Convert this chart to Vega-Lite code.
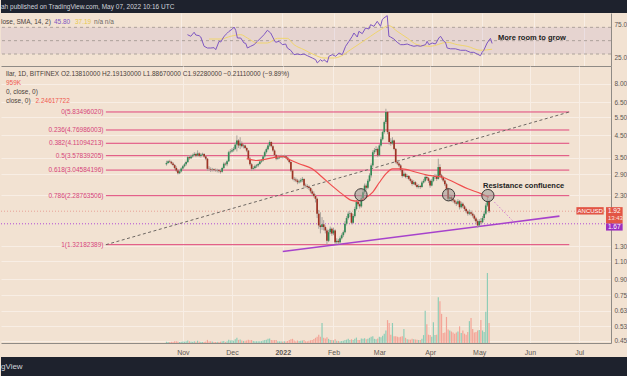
{
"$schema":"https://vega.github.io/schema/vega-lite/v6.json",
"background":"#f2e2d2",
"padding":0,
"spacing":0,
"config":{"view":{"stroke":null},"font":"Liberation Sans","axis":{"title":null}},
"datasets":{
"candles":[
{"date":"2021-10-22","o":3.25,"h":3.38,"l":3.2,"c":3.3,"v":60},
{"date":"2021-10-23","o":3.3,"h":3.4,"l":3.27,"c":3.36,"v":50},
{"date":"2021-10-24","o":3.36,"h":3.42,"l":3.3,"c":3.34,"v":45},
{"date":"2021-10-25","o":3.34,"h":3.38,"l":3.24,"c":3.28,"v":55},
{"date":"2021-10-26","o":3.28,"h":3.33,"l":3.18,"c":3.22,"v":60},
{"date":"2021-10-27","o":3.22,"h":3.26,"l":3.06,"c":3.12,"v":80},
{"date":"2021-10-28","o":3.12,"h":3.18,"l":2.98,"c":3.03,"v":90},
{"date":"2021-10-29","o":3.03,"h":3.08,"l":2.9,"c":2.94,"v":70},
{"date":"2021-10-30","o":2.94,"h":3.05,"l":2.91,"c":3.0,"v":50},
{"date":"2021-10-31","o":3.0,"h":3.14,"l":2.97,"c":3.1,"v":60},
{"date":"2021-11-01","o":3.1,"h":3.22,"l":3.06,"c":3.18,"v":70},
{"date":"2021-11-02","o":3.18,"h":3.3,"l":3.14,"c":3.25,"v":65},
{"date":"2021-11-03","o":3.25,"h":3.38,"l":3.2,"c":3.33,"v":80},
{"date":"2021-11-04","o":3.33,"h":3.58,"l":3.3,"c":3.52,"v":120},
{"date":"2021-11-05","o":3.52,"h":3.6,"l":3.42,"c":3.48,"v":80},
{"date":"2021-11-06","o":3.48,"h":3.62,"l":3.45,"c":3.55,"v":70},
{"date":"2021-11-07","o":3.55,"h":3.66,"l":3.5,"c":3.6,"v":65},
{"date":"2021-11-08","o":3.6,"h":3.72,"l":3.56,"c":3.65,"v":90},
{"date":"2021-11-09","o":3.65,"h":3.7,"l":3.52,"c":3.58,"v":75},
{"date":"2021-11-10","o":3.58,"h":3.8,"l":3.55,"c":3.67,"v":110},
{"date":"2021-11-11","o":3.67,"h":3.72,"l":3.52,"c":3.57,"v":70},
{"date":"2021-11-12","o":3.57,"h":3.68,"l":3.5,"c":3.62,"v":60},
{"date":"2021-11-13","o":3.62,"h":3.7,"l":3.57,"c":3.65,"v":55},
{"date":"2021-11-14","o":3.65,"h":3.68,"l":3.5,"c":3.55,"v":60},
{"date":"2021-11-15","o":3.55,"h":3.6,"l":3.4,"c":3.46,"v":70},
{"date":"2021-11-16","o":3.46,"h":3.48,"l":3.02,"c":3.09,"v":150},
{"date":"2021-11-17","o":3.09,"h":3.18,"l":3.02,"c":3.08,"v":90},
{"date":"2021-11-18","o":3.08,"h":3.14,"l":2.98,"c":3.06,"v":80},
{"date":"2021-11-19","o":3.06,"h":3.12,"l":3.0,"c":3.07,"v":70},
{"date":"2021-11-20","o":3.07,"h":3.1,"l":3.0,"c":3.05,"v":60},
{"date":"2021-11-21","o":3.05,"h":3.1,"l":2.99,"c":3.04,"v":55},
{"date":"2021-11-22","o":3.04,"h":3.09,"l":2.97,"c":3.05,"v":60},
{"date":"2021-11-23","o":3.05,"h":3.08,"l":2.96,"c":3.02,"v":65},
{"date":"2021-11-24","o":3.02,"h":3.06,"l":2.93,"c":2.99,"v":70},
{"date":"2021-11-25","o":2.99,"h":3.16,"l":2.96,"c":3.12,"v":80},
{"date":"2021-11-26","o":3.12,"h":3.32,"l":3.08,"c":3.27,"v":100},
{"date":"2021-11-27","o":3.27,"h":3.32,"l":3.2,"c":3.25,"v":60},
{"date":"2021-11-28","o":3.25,"h":3.4,"l":3.18,"c":3.36,"v":80},
{"date":"2021-11-29","o":3.36,"h":3.78,"l":3.33,"c":3.72,"v":160},
{"date":"2021-11-30","o":3.72,"h":3.85,"l":3.66,"c":3.75,"v":120},
{"date":"2021-12-01","o":3.75,"h":3.9,"l":3.7,"c":3.8,"v":130},
{"date":"2021-12-02","o":3.8,"h":3.95,"l":3.74,"c":3.86,"v":110},
{"date":"2021-12-03","o":3.86,"h":4.15,"l":3.82,"c":4.05,"v":180},
{"date":"2021-12-04","o":4.05,"h":4.49,"l":3.75,"c":4.24,"v":250},
{"date":"2021-12-05","o":4.24,"h":4.3,"l":3.9,"c":4.01,"v":150},
{"date":"2021-12-06","o":4.01,"h":4.4,"l":3.85,"c":4.1,"v":170},
{"date":"2021-12-07","o":4.1,"h":4.2,"l":3.92,"c":3.98,"v":120},
{"date":"2021-12-08","o":3.98,"h":4.08,"l":3.88,"c":4.01,"v":100},
{"date":"2021-12-09","o":4.01,"h":4.05,"l":3.85,"c":3.9,"v":110},
{"date":"2021-12-10","o":3.9,"h":3.95,"l":3.72,"c":3.79,"v":120},
{"date":"2021-12-11","o":3.79,"h":3.82,"l":3.4,"c":3.46,"v":160},
{"date":"2021-12-12","o":3.46,"h":3.52,"l":3.2,"c":3.25,"v":130},
{"date":"2021-12-13","o":3.25,"h":3.3,"l":3.02,"c":3.09,"v":150},
{"date":"2021-12-14","o":3.09,"h":3.18,"l":3.04,"c":3.12,"v":100},
{"date":"2021-12-15","o":3.12,"h":3.24,"l":3.06,"c":3.18,"v":90},
{"date":"2021-12-16","o":3.18,"h":3.26,"l":3.12,"c":3.21,"v":80},
{"date":"2021-12-17","o":3.21,"h":3.3,"l":3.15,"c":3.26,"v":85},
{"date":"2021-12-18","o":3.26,"h":3.4,"l":3.22,"c":3.35,"v":90},
{"date":"2021-12-19","o":3.35,"h":3.45,"l":3.3,"c":3.39,"v":90},
{"date":"2021-12-20","o":3.39,"h":3.6,"l":3.35,"c":3.55,"v":120},
{"date":"2021-12-21","o":3.55,"h":3.78,"l":3.5,"c":3.72,"v":150},
{"date":"2021-12-22","o":3.72,"h":3.92,"l":3.66,"c":3.85,"v":160},
{"date":"2021-12-23","o":3.85,"h":4.08,"l":3.8,"c":4.01,"v":200},
{"date":"2021-12-24","o":4.01,"h":4.25,"l":3.95,"c":4.17,"v":220},
{"date":"2021-12-25","o":4.17,"h":4.2,"l":3.92,"c":3.98,"v":140},
{"date":"2021-12-26","o":3.98,"h":4.02,"l":3.74,"c":3.79,"v":130},
{"date":"2021-12-27","o":3.79,"h":3.84,"l":3.55,"c":3.6,"v":140},
{"date":"2021-12-28","o":3.6,"h":3.64,"l":3.4,"c":3.46,"v":150},
{"date":"2021-12-29","o":3.46,"h":3.56,"l":3.42,"c":3.5,"v":90},
{"date":"2021-12-30","o":3.5,"h":3.58,"l":3.45,"c":3.52,"v":80},
{"date":"2021-12-31","o":3.52,"h":3.62,"l":3.48,"c":3.55,"v":85},
{"date":"2022-01-01","o":3.55,"h":3.6,"l":3.47,"c":3.52,"v":70},
{"date":"2022-01-02","o":3.52,"h":3.62,"l":3.49,"c":3.56,"v":80},
{"date":"2022-01-03","o":3.56,"h":3.6,"l":3.45,"c":3.5,"v":90},
{"date":"2022-01-04","o":3.5,"h":3.54,"l":3.38,"c":3.42,"v":100},
{"date":"2022-01-05","o":3.42,"h":3.46,"l":3.28,"c":3.33,"v":140},
{"date":"2022-01-06","o":3.33,"h":3.36,"l":2.98,"c":3.03,"v":180},
{"date":"2022-01-07","o":3.03,"h":3.07,"l":2.72,"c":2.76,"v":200},
{"date":"2022-01-08","o":2.76,"h":2.82,"l":2.68,"c":2.74,"v":120},
{"date":"2022-01-09","o":2.74,"h":2.8,"l":2.66,"c":2.71,"v":90},
{"date":"2022-01-10","o":2.71,"h":2.76,"l":2.6,"c":2.66,"v":120},
{"date":"2022-01-11","o":2.66,"h":2.74,"l":2.62,"c":2.68,"v":100},
{"date":"2022-01-12","o":2.68,"h":2.78,"l":2.64,"c":2.72,"v":110},
{"date":"2022-01-13","o":2.72,"h":2.82,"l":2.66,"c":2.76,"v":120},
{"date":"2022-01-14","o":2.76,"h":2.78,"l":2.52,"c":2.56,"v":150},
{"date":"2022-01-15","o":2.56,"h":2.62,"l":2.5,"c":2.55,"v":90},
{"date":"2022-01-16","o":2.55,"h":2.6,"l":2.47,"c":2.52,"v":90},
{"date":"2022-01-17","o":2.52,"h":2.56,"l":2.44,"c":2.49,"v":110},
{"date":"2022-01-18","o":2.49,"h":2.52,"l":2.35,"c":2.4,"v":130},
{"date":"2022-01-19","o":2.4,"h":2.45,"l":2.3,"c":2.34,"v":140},
{"date":"2022-01-20","o":2.34,"h":2.4,"l":2.24,"c":2.28,"v":190},
{"date":"2022-01-21","o":2.28,"h":2.32,"l":2.12,"c":2.21,"v":250},
{"date":"2022-01-22","o":2.21,"h":2.24,"l":1.78,"c":1.87,"v":300},
{"date":"2022-01-23","o":1.87,"h":1.95,"l":1.58,"c":1.64,"v":400},
{"date":"2022-01-24","o":1.64,"h":1.9,"l":1.5,"c":1.61,"v":300},
{"date":"2022-01-25","o":1.61,"h":1.8,"l":1.56,"c":1.66,"v":960},
{"date":"2022-01-26","o":1.66,"h":1.74,"l":1.55,"c":1.61,"v":250},
{"date":"2022-01-27","o":1.61,"h":1.64,"l":1.5,"c":1.55,"v":220},
{"date":"2022-01-28","o":1.55,"h":1.58,"l":1.32,"c":1.38,"v":280},
{"date":"2022-01-29","o":1.38,"h":1.56,"l":1.36,"c":1.52,"v":200},
{"date":"2022-01-30","o":1.52,"h":1.62,"l":1.49,"c":1.58,"v":150},
{"date":"2022-01-31","o":1.58,"h":1.6,"l":1.46,"c":1.5,"v":140},
{"date":"2022-02-01","o":1.5,"h":1.6,"l":1.47,"c":1.55,"v":130},
{"date":"2022-02-02","o":1.55,"h":1.57,"l":1.33,"c":1.36,"v":180},
{"date":"2022-02-03","o":1.36,"h":1.42,"l":1.33,"c":1.38,"v":110},
{"date":"2022-02-04","o":1.38,"h":1.41,"l":1.33,"c":1.36,"v":100},
{"date":"2022-02-05","o":1.36,"h":1.45,"l":1.34,"c":1.42,"v":90},
{"date":"2022-02-06","o":1.42,"h":1.5,"l":1.4,"c":1.47,"v":100},
{"date":"2022-02-07","o":1.47,"h":1.55,"l":1.44,"c":1.52,"v":110},
{"date":"2022-02-08","o":1.52,"h":1.72,"l":1.5,"c":1.67,"v":150},
{"date":"2022-02-09","o":1.67,"h":1.82,"l":1.64,"c":1.78,"v":160},
{"date":"2022-02-10","o":1.78,"h":1.92,"l":1.75,"c":1.87,"v":200},
{"date":"2022-02-11","o":1.87,"h":1.93,"l":1.8,"c":1.88,"v":150},
{"date":"2022-02-12","o":1.88,"h":1.9,"l":1.66,"c":1.69,"v":180},
{"date":"2022-02-13","o":1.69,"h":1.86,"l":1.67,"c":1.82,"v":140},
{"date":"2022-02-14","o":1.82,"h":2.02,"l":1.79,"c":1.97,"v":200},
{"date":"2022-02-15","o":1.97,"h":2.18,"l":1.94,"c":2.13,"v":260},
{"date":"2022-02-16","o":2.13,"h":2.17,"l":2.03,"c":2.08,"v":150},
{"date":"2022-02-17","o":2.08,"h":2.12,"l":1.98,"c":2.03,"v":140},
{"date":"2022-02-18","o":2.03,"h":2.28,"l":2.0,"c":2.22,"v":220},
{"date":"2022-02-19","o":2.22,"h":2.44,"l":2.18,"c":2.38,"v":200},
{"date":"2022-02-20","o":2.38,"h":2.62,"l":2.34,"c":2.56,"v":230},
{"date":"2022-02-21","o":2.56,"h":2.62,"l":2.42,"c":2.5,"v":180},
{"date":"2022-02-22","o":2.5,"h":2.76,"l":2.46,"c":2.7,"v":200},
{"date":"2022-02-23","o":2.7,"h":2.94,"l":2.66,"c":2.87,"v":250},
{"date":"2022-02-24","o":2.87,"h":3.28,"l":2.8,"c":3.21,"v":300},
{"date":"2022-02-25","o":3.21,"h":3.8,"l":3.15,"c":3.72,"v":330},
{"date":"2022-02-26","o":3.72,"h":3.9,"l":3.64,"c":3.8,"v":200},
{"date":"2022-02-27","o":3.8,"h":3.98,"l":3.72,"c":3.86,"v":180},
{"date":"2022-02-28","o":3.86,"h":3.92,"l":3.52,"c":3.59,"v":220},
{"date":"2022-03-01","o":3.59,"h":4.08,"l":3.55,"c":4.01,"v":300},
{"date":"2022-03-02","o":4.01,"h":4.4,"l":3.96,"c":4.3,"v":280},
{"date":"2022-03-03","o":4.3,"h":4.75,"l":4.24,"c":4.66,"v":350},
{"date":"2022-03-04","o":4.66,"h":5.3,"l":4.58,"c":5.21,"v":450},
{"date":"2022-03-05","o":5.21,"h":6.05,"l":5.1,"c":5.83,"v":600},
{"date":"2022-03-06","o":5.83,"h":5.9,"l":4.55,"c":4.66,"v":1100},
{"date":"2022-03-07","o":4.66,"h":4.75,"l":4.05,"c":4.17,"v":960},
{"date":"2022-03-08","o":4.17,"h":4.35,"l":4.0,"c":4.1,"v":400},
{"date":"2022-03-09","o":4.1,"h":4.4,"l":4.05,"c":4.24,"v":960},
{"date":"2022-03-10","o":4.24,"h":4.28,"l":3.8,"c":3.86,"v":330},
{"date":"2022-03-11","o":3.86,"h":3.9,"l":3.28,"c":3.33,"v":330},
{"date":"2022-03-12","o":3.33,"h":3.4,"l":3.22,"c":3.28,"v":300},
{"date":"2022-03-13","o":3.28,"h":3.34,"l":3.15,"c":3.21,"v":280},
{"date":"2022-03-14","o":3.21,"h":3.26,"l":3.0,"c":3.05,"v":300},
{"date":"2022-03-15","o":3.05,"h":3.1,"l":2.8,"c":2.85,"v":320},
{"date":"2022-03-16","o":2.85,"h":3.0,"l":2.82,"c":2.92,"v":670},
{"date":"2022-03-17","o":2.92,"h":2.96,"l":2.78,"c":2.82,"v":250},
{"date":"2022-03-18","o":2.82,"h":2.9,"l":2.76,"c":2.85,"v":180},
{"date":"2022-03-19","o":2.85,"h":2.88,"l":2.72,"c":2.76,"v":170},
{"date":"2022-03-20","o":2.76,"h":2.8,"l":2.65,"c":2.7,"v":160},
{"date":"2022-03-21","o":2.7,"h":2.74,"l":2.56,"c":2.61,"v":200},
{"date":"2022-03-22","o":2.61,"h":2.72,"l":2.58,"c":2.66,"v":180},
{"date":"2022-03-23","o":2.66,"h":2.69,"l":2.54,"c":2.58,"v":170},
{"date":"2022-03-24","o":2.58,"h":2.62,"l":2.48,"c":2.52,"v":160},
{"date":"2022-03-25","o":2.52,"h":2.6,"l":2.48,"c":2.55,"v":150},
{"date":"2022-03-26","o":2.55,"h":2.58,"l":2.47,"c":2.52,"v":140},
{"date":"2022-03-27","o":2.52,"h":2.7,"l":2.5,"c":2.65,"v":200},
{"date":"2022-03-28","o":2.65,"h":2.76,"l":2.62,"c":2.7,"v":380},
{"date":"2022-03-29","o":2.7,"h":2.9,"l":2.66,"c":2.82,"v":1550},
{"date":"2022-03-30","o":2.82,"h":2.88,"l":2.72,"c":2.78,"v":900},
{"date":"2022-03-31","o":2.78,"h":2.82,"l":2.64,"c":2.7,"v":400},
{"date":"2022-04-01","o":2.7,"h":2.74,"l":2.5,"c":2.56,"v":380},
{"date":"2022-04-02","o":2.56,"h":2.76,"l":2.54,"c":2.7,"v":300},
{"date":"2022-04-03","o":2.7,"h":2.88,"l":2.66,"c":2.82,"v":1000},
{"date":"2022-04-04","o":2.82,"h":2.92,"l":2.76,"c":2.85,"v":380},
{"date":"2022-04-05","o":2.85,"h":2.9,"l":2.7,"c":2.76,"v":400},
{"date":"2022-04-06","o":2.76,"h":3.46,"l":2.74,"c":3.15,"v":2200},
{"date":"2022-04-07","o":3.15,"h":3.25,"l":2.82,"c":2.87,"v":2000},
{"date":"2022-04-08","o":2.87,"h":2.92,"l":2.74,"c":2.8,"v":1400},
{"date":"2022-04-09","o":2.8,"h":2.85,"l":2.66,"c":2.71,"v":480},
{"date":"2022-04-10","o":2.71,"h":2.75,"l":2.55,"c":2.6,"v":500},
{"date":"2022-04-11","o":2.6,"h":2.64,"l":2.42,"c":2.47,"v":1250},
{"date":"2022-04-12","o":2.47,"h":2.5,"l":2.15,"c":2.21,"v":650},
{"date":"2022-04-13","o":2.21,"h":2.32,"l":2.16,"c":2.25,"v":600},
{"date":"2022-04-14","o":2.25,"h":2.28,"l":2.14,"c":2.2,"v":550},
{"date":"2022-04-15","o":2.2,"h":2.24,"l":2.12,"c":2.17,"v":500},
{"date":"2022-04-16","o":2.17,"h":2.2,"l":2.08,"c":2.12,"v":450},
{"date":"2022-04-17","o":2.12,"h":2.16,"l":2.04,"c":2.09,"v":500},
{"date":"2022-04-18","o":2.09,"h":2.2,"l":2.06,"c":2.15,"v":550},
{"date":"2022-04-19","o":2.15,"h":2.18,"l":1.96,"c":2.01,"v":800},
{"date":"2022-04-20","o":2.01,"h":2.14,"l":1.98,"c":2.09,"v":480},
{"date":"2022-04-21","o":2.09,"h":2.12,"l":1.99,"c":2.03,"v":600},
{"date":"2022-04-22","o":2.03,"h":2.06,"l":1.93,"c":1.97,"v":450},
{"date":"2022-04-23","o":1.97,"h":2.0,"l":1.88,"c":1.92,"v":400},
{"date":"2022-04-24","o":1.92,"h":1.95,"l":1.83,"c":1.87,"v":530},
{"date":"2022-04-25","o":1.87,"h":1.96,"l":1.84,"c":1.9,"v":1050},
{"date":"2022-04-26","o":1.9,"h":1.94,"l":1.83,"c":1.87,"v":1200},
{"date":"2022-04-27","o":1.87,"h":1.9,"l":1.79,"c":1.83,"v":670},
{"date":"2022-04-28","o":1.83,"h":1.86,"l":1.73,"c":1.77,"v":500},
{"date":"2022-04-29","o":1.77,"h":1.8,"l":1.68,"c":1.72,"v":530},
{"date":"2022-04-30","o":1.72,"h":1.75,"l":1.6,"c":1.64,"v":600},
{"date":"2022-05-01","o":1.64,"h":1.76,"l":1.62,"c":1.72,"v":620},
{"date":"2022-05-02","o":1.72,"h":1.78,"l":1.66,"c":1.7,"v":1100},
{"date":"2022-05-03","o":1.7,"h":1.82,"l":1.68,"c":1.78,"v":600},
{"date":"2022-05-04","o":1.78,"h":1.92,"l":1.74,"c":1.87,"v":530},
{"date":"2022-05-05","o":1.87,"h":2.1,"l":1.84,"c":2.05,"v":1500},
{"date":"2022-05-06","o":2.05,"h":2.29,"l":2.02,"c":2.1381,"v":3360},
{"date":"2022-05-07","o":2.1381,"h":2.1913,"l":1.8867,"c":1.9228,"v":959}
],
"rsi":[
{"date":"2021-11-05","v":59},{"date":"2021-11-07","v":56.6},{"date":"2021-11-09","v":62.6},{"date":"2021-11-10","v":58.5},{"date":"2021-11-12","v":57.5},{"date":"2021-11-13","v":55.5},{"date":"2021-11-15","v":41.6},{"date":"2021-11-17","v":39},{"date":"2021-11-19","v":39},{"date":"2021-11-21","v":39.5},{"date":"2021-11-22","v":36.5},{"date":"2021-11-24","v":49},{"date":"2021-11-25","v":48},{"date":"2021-11-27","v":56.6},{"date":"2021-11-29","v":61.5},{"date":"2021-11-30","v":64},
{"date":"2021-12-02","v":67.5},{"date":"2021-12-03","v":70.5},{"date":"2021-12-04","v":65.5},{"date":"2021-12-05","v":54},{"date":"2021-12-07","v":54},{"date":"2021-12-09","v":46.5},{"date":"2021-12-10","v":46},{"date":"2021-12-11","v":39},{"date":"2021-12-13","v":41.6},{"date":"2021-12-15","v":44},{"date":"2021-12-17","v":49},{"date":"2021-12-19","v":54},{"date":"2021-12-21","v":59},{"date":"2021-12-23","v":65.6},{"date":"2021-12-25","v":61.5},{"date":"2021-12-27","v":51.5},{"date":"2021-12-28","v":47.6},{"date":"2021-12-30","v":49},
{"date":"2022-01-01","v":44},{"date":"2022-01-03","v":45},{"date":"2022-01-04","v":39},{"date":"2022-01-06","v":35.6},{"date":"2022-01-08","v":29},{"date":"2022-01-10","v":30},{"date":"2022-01-12","v":29},{"date":"2022-01-14","v":30},{"date":"2022-01-16","v":27.5},{"date":"2022-01-19","v":24},{"date":"2022-01-21","v":21.5},{"date":"2022-01-22","v":16.6},{"date":"2022-01-24","v":21.5},{"date":"2022-01-25","v":19},{"date":"2022-01-26","v":21.5},{"date":"2022-01-28","v":17.5},{"date":"2022-01-29","v":26.6},{"date":"2022-01-31","v":29},
{"date":"2022-02-02","v":26.6},{"date":"2022-02-04","v":31.5},{"date":"2022-02-06","v":29},{"date":"2022-02-08","v":41.6},{"date":"2022-02-10","v":49},{"date":"2022-02-12","v":56.6},{"date":"2022-02-13","v":61.5},{"date":"2022-02-15","v":55.5},{"date":"2022-02-16","v":64},{"date":"2022-02-18","v":60.5},{"date":"2022-02-20","v":69},{"date":"2022-02-22","v":67.5},{"date":"2022-02-23","v":74},{"date":"2022-02-25","v":71.5},{"date":"2022-02-27","v":79},
{"date":"2022-03-01","v":71.5},{"date":"2022-03-02","v":81.5},{"date":"2022-03-03","v":84},{"date":"2022-03-05","v":87.5},{"date":"2022-03-06","v":56.6},{"date":"2022-03-07","v":55.5},{"date":"2022-03-09","v":52.5},{"date":"2022-03-11","v":47.6},{"date":"2022-03-13","v":44},{"date":"2022-03-15","v":44},{"date":"2022-03-17","v":45},{"date":"2022-03-19","v":43},{"date":"2022-03-21","v":41.6},{"date":"2022-03-23","v":42.5},{"date":"2022-03-25","v":41.6},{"date":"2022-03-28","v":44},{"date":"2022-03-29","v":49},{"date":"2022-03-30","v":44},
{"date":"2022-04-01","v":46.5},{"date":"2022-04-03","v":45},{"date":"2022-04-05","v":54},{"date":"2022-04-06","v":56.6},{"date":"2022-04-08","v":49},{"date":"2022-04-09","v":47.6},{"date":"2022-04-10","v":39},{"date":"2022-04-12","v":37.8},{"date":"2022-04-15","v":37.8},{"date":"2022-04-18","v":35.6},{"date":"2022-04-21","v":35.6},{"date":"2022-04-24","v":32.5},{"date":"2022-04-26","v":32.5},{"date":"2022-04-28","v":30},{"date":"2022-04-30","v":27.5},
{"date":"2022-05-01","v":32.5},{"date":"2022-05-02","v":35.6},{"date":"2022-05-04","v":46.5},{"date":"2022-05-06","v":53.5},{"date":"2022-05-07","v":45.8}
],
"rsima":[
{"date":"2021-11-18","v":52.5},{"date":"2021-11-25","v":52.5},{"date":"2021-12-01","v":56.6},{"date":"2021-12-07","v":59},{"date":"2021-12-11","v":54},{"date":"2021-12-17","v":46.5},{"date":"2021-12-23","v":46.5},{"date":"2021-12-29","v":53.5},{"date":"2022-01-04","v":53.5},{"date":"2022-01-08","v":44},{"date":"2022-01-14","v":36.5},{"date":"2022-01-20","v":29},{"date":"2022-01-26","v":24},{"date":"2022-02-01","v":24},{"date":"2022-02-05","v":26.6},{"date":"2022-02-11","v":36.5},{"date":"2022-02-17","v":46.5},{"date":"2022-02-23","v":56.6},{"date":"2022-03-01","v":66.5},{"date":"2022-03-06","v":72.5},{"date":"2022-03-11","v":64},{"date":"2022-03-17","v":54},{"date":"2022-03-23","v":44},{"date":"2022-03-31","v":41.6},{"date":"2022-04-10","v":47.6},{"date":"2022-04-16","v":44},{"date":"2022-04-22","v":41.6},{"date":"2022-04-30","v":35.6},{"date":"2022-05-07","v":37.2}
],
"ma":[
{"date":"2021-12-10","v":3.46},{"date":"2021-12-16","v":3.39},{"date":"2021-12-24","v":3.47},{"date":"2021-12-28","v":3.52},{"date":"2022-01-01","v":3.55},{"date":"2022-01-04","v":3.46},{"date":"2022-01-11","v":3.27},{"date":"2022-01-19","v":3.09},{"date":"2022-01-25","v":2.82},{"date":"2022-01-31","v":2.56},{"date":"2022-02-06","v":2.34},{"date":"2022-02-12","v":2.17},{"date":"2022-02-16","v":2.15},{"date":"2022-02-20","v":2.22},{"date":"2022-02-25","v":2.38},{"date":"2022-03-01","v":2.65},{"date":"2022-03-05","v":2.92},{"date":"2022-03-09","v":3.09},{"date":"2022-03-15","v":3.09},{"date":"2022-03-23","v":2.98},{"date":"2022-03-31","v":2.87},{"date":"2022-04-08","v":2.82},{"date":"2022-04-16","v":2.65},{"date":"2022-04-24","v":2.47},{"date":"2022-05-02","v":2.34},{"date":"2022-05-07","v":2.246}
],
"fib":[
{"ratio":"0","price":5.8349602,"label":"0(5.83496020)"},
{"ratio":"0.236","price":4.76986003,"label":"0.236(4.76986003)"},
{"ratio":"0.382","price":4.11094213,"label":"0.382(4.11094213)"},
{"ratio":"0.5","price":3.57839205,"label":"0.5(3.57839205)"},
{"ratio":"0.618","price":3.04584196,"label":"0.618(3.04584196)"},
{"ratio":"0.786","price":2.28763506,"label":"0.786(2.28763506)"},
{"ratio":"1","price":1.32182389,"label":"1(1.32182389)"}
],
"circles":[
{"date":"2022-02-17T19:00:00Z","p":2.31},
{"date":"2022-04-12T07:00:00Z","p":2.31},
{"date":"2022-05-06T07:00:00Z","p":2.29}
]
},
"vconcat":[
{
"width":627,"height":13,
"view":{"fill":"#1e222d","stroke":null},
"data":{"values":[{"t":"ah published on TradingView.com, May 07, 2022 10:16 UTC"}]},
"mark":{"type":"text","align":"left","baseline":"middle","fontSize":6.5,"color":"#d1d4dc"},
"encoding":{
"x":{"datum":{"year":2021,"month":7,"date":16,"utc":true},"type":"temporal","scale":{"type":"utc","domain":[{"year":2021,"month":7,"date":16,"utc":true},{"year":2022,"month":7,"date":17,"hours":10,"utc":true}],"nice":false},"axis":null},
"text":{"field":"t"}
}
},
{
"width":610,"height":53,
"layer":[
{
"data":{"values":[{}]},
"mark":{"type":"rect","color":"#7e57c2","opacity":0.1},
"encoding":{
"x":{"datum":{"year":2021,"month":7,"date":16,"utc":true},"type":"temporal","scale":{"type":"utc","domain":[{"year":2021,"month":7,"date":16,"utc":true},{"year":2022,"month":7,"date":17,"hours":10,"utc":true}],"nice":false},"axis":{"title":null,"values":[{"year":2021,"month":11,"date":1,"utc":true},{"year":2021,"month":12,"date":1,"utc":true},{"year":2022,"month":1,"date":1,"utc":true},{"year":2022,"month":2,"date":1,"utc":true},{"year":2022,"month":3,"date":1,"utc":true},{"year":2022,"month":4,"date":1,"utc":true},{"year":2022,"month":5,"date":1,"utc":true},{"year":2022,"month":6,"date":1,"utc":true},{"year":2022,"month":7,"date":1,"utc":true}],"labels":false,"ticks":false,"domainColor":"#8f8a85","grid":true,"gridColor":"#f8eee5"}},
"x2":{"datum":{"year":2022,"month":7,"date":17,"hours":10,"utc":true}},
"y":{"datum":30,"type":"quantitative","scale":{"domain":[12,91.5],"nice":false,"zero":false},"axis":{"title":null,"orient":"right","values":[25,50,75],"format":".1f","labelFontSize":6.5,"labelColor":"#5e5853","ticks":false,"labelPadding":3,"domainColor":"#8f8a85","grid":false}},
"y2":{"datum":70}
}
},
{
"data":{"values":[{"lvl":30},{"lvl":50},{"lvl":70}]},
"mark":{"type":"rule","color":"#9d948d","strokeDash":[3,3],"strokeWidth":0.8},
"encoding":{"y":{"field":"lvl","type":"quantitative","title":null}}
},
{
"data":{"name":"rsima"},
"mark":{"type":"line","color":"#f0d56e","strokeWidth":1,"interpolate":"monotone"},
"encoding":{"x":{"field":"date","type":"temporal","title":null},"y":{"field":"v","type":"quantitative","title":null}}
},
{
"data":{"name":"rsi"},
"mark":{"type":"line","color":"#7e57c2","strokeWidth":1},
"encoding":{"x":{"field":"date","type":"temporal","title":null},"y":{"field":"v","type":"quantitative","title":null}}
},
{
"data":{"values":[{}]},
"mark":{"type":"text","align":"left","baseline":"middle","fontSize":6.5,"color":"#4b3f3a","text":"lose, SMA, 14, 2)"},
"encoding":{"x":{"datum":{"year":2021,"month":7,"date":16,"utc":true},"type":"temporal"},"y":{"datum":78,"type":"quantitative"}}
},
{
"data":{"values":[{}]},
"mark":{"type":"text","align":"left","baseline":"middle","fontSize":6.5,"color":"#7e57c2","text":"45.80"},
"encoding":{"x":{"datum":{"year":2021,"month":8,"date":16,"hours":19,"utc":true},"type":"temporal"},"y":{"datum":78,"type":"quantitative"}}
},
{
"data":{"values":[{}]},
"mark":{"type":"text","align":"left","baseline":"middle","fontSize":6.5,"color":"#e8c94e","text":"37.19"},
"encoding":{"x":{"datum":{"year":2021,"month":8,"date":29,"hours":10,"utc":true},"type":"temporal"},"y":{"datum":78,"type":"quantitative"}}
},
{
"data":{"values":[{}]},
"mark":{"type":"text","align":"left","baseline":"middle","fontSize":6.5,"color":"#6e6863","text":"n/a  n/a"},
"encoding":{"x":{"datum":{"year":2021,"month":9,"date":9,"hours":21,"utc":true},"type":"temporal"},"y":{"datum":78,"type":"quantitative"}}
},
{
"data":{"values":[{}]},
"mark":{"type":"text","align":"left","baseline":"middle","fontSize":7.5,"fontWeight":"bold","color":"#222222","text":"More room to grow"},
"encoding":{"x":{"datum":{"year":2022,"month":5,"date":10,"hours":12,"utc":true},"type":"temporal"},"y":{"datum":53.6,"type":"quantitative"}}
}
]
},
{
"width":610,"height":277,
"layer":[
{
"data":{"name":"candles"},
"mark":{"type":"bar","width":1.2},
"encoding":{
"x":{"field":"date","type":"temporal","title":null},
"y":{"field":"v","type":"quantitative","scale":{"domain":[0,13300]},"axis":null},
"color":{"condition":{"test":"datum.c >= datum.o","value":"#8fcdb7"},"value":"#f4a497"}
}
},
{
"layer":[
{
"data":{"name":"fib"},
"mark":{"type":"rule","color":"#e0457b","strokeWidth":1},
"encoding":{
"x":{"datum":{"year":2021,"month":9,"date":15,"utc":true},"type":"temporal","scale":{"type":"utc","domain":[{"year":2021,"month":7,"date":16,"utc":true},{"year":2022,"month":7,"date":17,"hours":10,"utc":true}],"nice":false},"axis":{"title":null,"values":[{"year":2021,"month":11,"date":1,"utc":true},{"year":2021,"month":12,"date":1,"utc":true},{"year":2022,"month":1,"date":1,"utc":true},{"year":2022,"month":2,"date":1,"utc":true},{"year":2022,"month":3,"date":1,"utc":true},{"year":2022,"month":4,"date":1,"utc":true},{"year":2022,"month":5,"date":1,"utc":true},{"year":2022,"month":6,"date":1,"utc":true},{"year":2022,"month":7,"date":1,"utc":true}],"labelExpr":"utcmonth(datum.value)==0 ? utcFormat(datum.value,'%Y') : utcFormat(datum.value,'%b')","labelFontWeight":{"condition":{"test":"utcmonth(datum.value)==0","value":"bold"},"value":"normal"},"labelFontSize":7,"labelColor":"#5e5853","ticks":false,"labelPadding":5,"minExtent":14,"domainColor":"#8f8a85","grid":true,"gridColor":"#f8eee5","labelFlush":false}},
"x2":{"datum":{"year":2022,"month":6,"date":25,"utc":true}},
"y":{"field":"price","type":"quantitative","scale":{"type":"log","domain":[0.44,9.76],"nice":false},"axis":{"title":null,"orient":"right","values":[8,6.5,5.5,4.5,3.5,2.9,2.3,1.3,1.1,0.9,0.75,0.63,0.53,0.45],"format":".2f","labelFontSize":6.5,"labelColor":"#5e5853","ticks":false,"labelPadding":3,"domainColor":"#8f8a85","grid":true,"gridColor":"#f8eee5","labelOverlap":false}}
}
},
{
"data":{"name":"fib"},
"mark":{"type":"text","align":"right","baseline":"middle","fontSize":6.5,"color":"#d6457a"},
"encoding":{
"x":{"datum":{"year":2021,"month":9,"date":13,"hours":12,"utc":true},"type":"temporal"},
"y":{"field":"price","type":"quantitative","title":null},
"text":{"field":"label"}
}
},
{
"data":{"values":[{}]},
"mark":{"type":"rule","color":"#e8a096","strokeDash":[1,2],"strokeWidth":1},
"encoding":{"y":{"datum":1.9228,"type":"quantitative"}}
},
{
"data":{"values":[{}]},
"mark":{"type":"rule","color":"#b04ad6","strokeDash":[1,2],"strokeWidth":1},
"encoding":{"y":{"datum":1.67,"type":"quantitative"}}
},
{
"data":{"values":[{}]},
"mark":{"type":"rule","color":"#6d6763","strokeDash":[3,2.5],"strokeWidth":1},
"encoding":{
"x":{"datum":{"year":2021,"month":9,"date":15,"utc":true},"type":"temporal"},
"x2":{"datum":{"year":2022,"month":6,"date":25,"utc":true}},
"y":{"datum":1.3218,"type":"quantitative"},
"y2":{"datum":5.835}
}
},
{
"data":{"values":[{}]},
"mark":{"type":"rule","color":"#a742cc","strokeWidth":1.6},
"encoding":{
"x":{"datum":{"year":2022,"month":1,"date":1,"utc":true},"type":"temporal"},
"x2":{"datum":{"year":2022,"month":6,"date":19,"utc":true}},
"y":{"datum":1.224,"type":"quantitative"},
"y2":{"datum":1.819}
}
},
{
"data":{"values":[{}]},
"mark":{"type":"rule","color":"#d27ad4","strokeDash":[1.5,2],"strokeWidth":1},
"encoding":{
"x":{"datum":{"year":2022,"month":5,"date":10,"hours":7,"utc":true},"type":"temporal"},
"x2":{"datum":{"year":2022,"month":5,"date":22,"hours":7,"utc":true}},
"y":{"datum":2.128,"type":"quantitative"},
"y2":{"datum":1.7}
}
},
{
"data":{"name":"candles"},
"mark":{"type":"rule","color":"#a8a29c","strokeWidth":1},
"encoding":{
"x":{"field":"date","type":"temporal","title":null},
"y":{"field":"l","type":"quantitative","title":null},
"y2":{"field":"h"}
}
},
{
"data":{"name":"candles"},
"mark":{"type":"rule","strokeWidth":1.7,"strokeCap":"butt"},
"encoding":{
"x":{"field":"date","type":"temporal","title":null},
"y":{"field":"o","type":"quantitative","title":null},
"y2":{"field":"c"},
"color":{"condition":{"test":"datum.c >= datum.o","value":"#338a57"},"value":"#9e3324"}
}
},
{
"data":{"name":"ma"},
"mark":{"type":"line","color":"#f04e4e","strokeWidth":1.2,"interpolate":"monotone"},
"encoding":{
"x":{"field":"date","type":"temporal","title":null},
"y":{"field":"v","type":"quantitative","title":null}
}
},
{
"data":{"name":"circles"},
"mark":{"type":"point","filled":true,"fill":"#9a9592","fillOpacity":0.55,"stroke":"#3d3a38","strokeWidth":1,"size":150},
"encoding":{
"x":{"field":"date","type":"temporal","title":null},
"y":{"field":"p","type":"quantitative","title":null}
}
},
{
"data":{"values":[{}]},
"mark":{"type":"text","align":"left","baseline":"middle","fontSize":7.5,"fontWeight":"bold","color":"#222222","text":"Resistance confluence"},
"encoding":{"x":{"datum":{"year":2022,"month":5,"date":3,"hours":7,"utc":true},"type":"temporal"},"y":{"datum":2.555,"type":"quantitative"}}
},
{
"data":{"values":[{}]},
"mark":{"type":"text","align":"left","baseline":"middle","fontSize":6.5,"color":"#4b3f3a","text":"llar, 1D, BITFINEX  O2.13810000  H2.19130000  L1.88670000  C1.92280000  −0.21110000 (−9.89%)"},
"encoding":{"x":{"datum":{"year":2021,"month":7,"date":16,"utc":true},"type":"temporal"},"y":{"datum":8.95,"type":"quantitative"}}
},
{
"data":{"values":[{}]},
"mark":{"type":"text","align":"left","baseline":"middle","fontSize":6.5,"color":"#ef5a50","text":"959K"},
"encoding":{"x":{"datum":{"year":2021,"month":7,"date":16,"utc":true},"type":"temporal"},"y":{"datum":8.09,"type":"quantitative"}}
},
{
"data":{"values":[{}]},
"mark":{"type":"text","align":"left","baseline":"middle","fontSize":6.5,"color":"#4b3f3a","text":"0, close, 0)"},
"encoding":{"x":{"datum":{"year":2021,"month":7,"date":16,"utc":true},"type":"temporal"},"y":{"datum":7.32,"type":"quantitative"}}
},
{
"data":{"values":[{}]},
"mark":{"type":"text","align":"left","baseline":"middle","fontSize":6.5,"color":"#4b3f3a","text":" close, 0)"},
"encoding":{"x":{"datum":{"year":2021,"month":7,"date":16,"utc":true},"type":"temporal"},"y":{"datum":6.62,"type":"quantitative"}}
},
{
"data":{"values":[{}]},
"mark":{"type":"text","align":"left","baseline":"middle","fontSize":6.5,"color":"#ef5a50","text":"2.24617722"},
"encoding":{"x":{"datum":{"year":2021,"month":8,"date":3,"utc":true},"type":"temporal"},"y":{"datum":6.62,"type":"quantitative"}}
},
{
"data":{"values":[{}]},
"mark":{"type":"rect","color":"#e25545"},
"encoding":{
"x":{"datum":{"year":2022,"month":6,"date":29,"hours":8,"utc":true},"type":"temporal"},
"x2":{"datum":{"year":2022,"month":7,"date":16,"utc":true}},
"y":{"datum":2.012,"type":"quantitative"},
"y2":{"datum":1.852}
}
},
{
"data":{"values":[{}]},
"mark":{"type":"text","align":"center","baseline":"middle","fontSize":6,"color":"#ffffff","text":"ANCUSD"},
"encoding":{"x":{"datum":{"year":2022,"month":7,"date":7,"hours":19,"utc":true},"type":"temporal"},"y":{"datum":1.93,"type":"quantitative"}}
},
{
"data":{"values":[{}]},
"mark":{"type":"rect","color":"#e25545"},
"encoding":{
"x":{"datum":{"year":2022,"month":7,"date":17,"hours":10,"utc":true},"type":"temporal"},
"x2":{"datum":{"year":2022,"month":7,"date":27,"hours":14,"utc":true}},
"y":{"datum":2.012,"type":"quantitative"},
"y2":{"datum":1.675}
}
},
{
"data":{"values":[{}]},
"mark":{"type":"rect","color":"#9c2fbf"},
"encoding":{
"x":{"datum":{"year":2022,"month":7,"date":17,"hours":10,"utc":true},"type":"temporal"},
"x2":{"datum":{"year":2022,"month":7,"date":27,"hours":14,"utc":true}},
"y":{"datum":1.675,"type":"quantitative"},
"y2":{"datum":1.548}
}
},
{
"data":{"values":[{}]},
"mark":{"type":"text","align":"left","baseline":"middle","fontSize":6.5,"color":"#ffffff","text":"1.92"},
"encoding":{"x":{"datum":{"year":2022,"month":7,"date":18,"hours":14,"utc":true},"type":"temporal"},"y":{"datum":1.93,"type":"quantitative"}}
},
{
"data":{"values":[{}]},
"mark":{"type":"text","align":"left","baseline":"middle","fontSize":6,"color":"#fbe3df","text":"13:43"},
"encoding":{"x":{"datum":{"year":2022,"month":7,"date":18,"hours":14,"utc":true},"type":"temporal"},"y":{"datum":1.775,"type":"quantitative"}}
},
{
"data":{"values":[{}]},
"mark":{"type":"text","align":"left","baseline":"middle","fontSize":6.5,"color":"#ffffff","text":"1.67"},
"encoding":{"x":{"datum":{"year":2022,"month":7,"date":18,"hours":14,"utc":true},"type":"temporal"},"y":{"datum":1.61,"type":"quantitative"}}
}
]
}
],
"resolve":{"scale":{"y":"independent"}}
},
{
"width":627,"height":19,
"view":{"fill":"#1e222d","stroke":null},
"data":{"values":[{"t":"gView"}]},
"mark":{"type":"text","align":"left","baseline":"middle","fontSize":8,"color":"#d1d4dc"},
"encoding":{
"x":{"datum":{"year":2021,"month":7,"date":16,"utc":true},"type":"temporal","scale":{"type":"utc","domain":[{"year":2021,"month":7,"date":16,"utc":true},{"year":2022,"month":7,"date":17,"hours":10,"utc":true}],"nice":false},"axis":null},
"text":{"field":"t"}
}
}
]
}
